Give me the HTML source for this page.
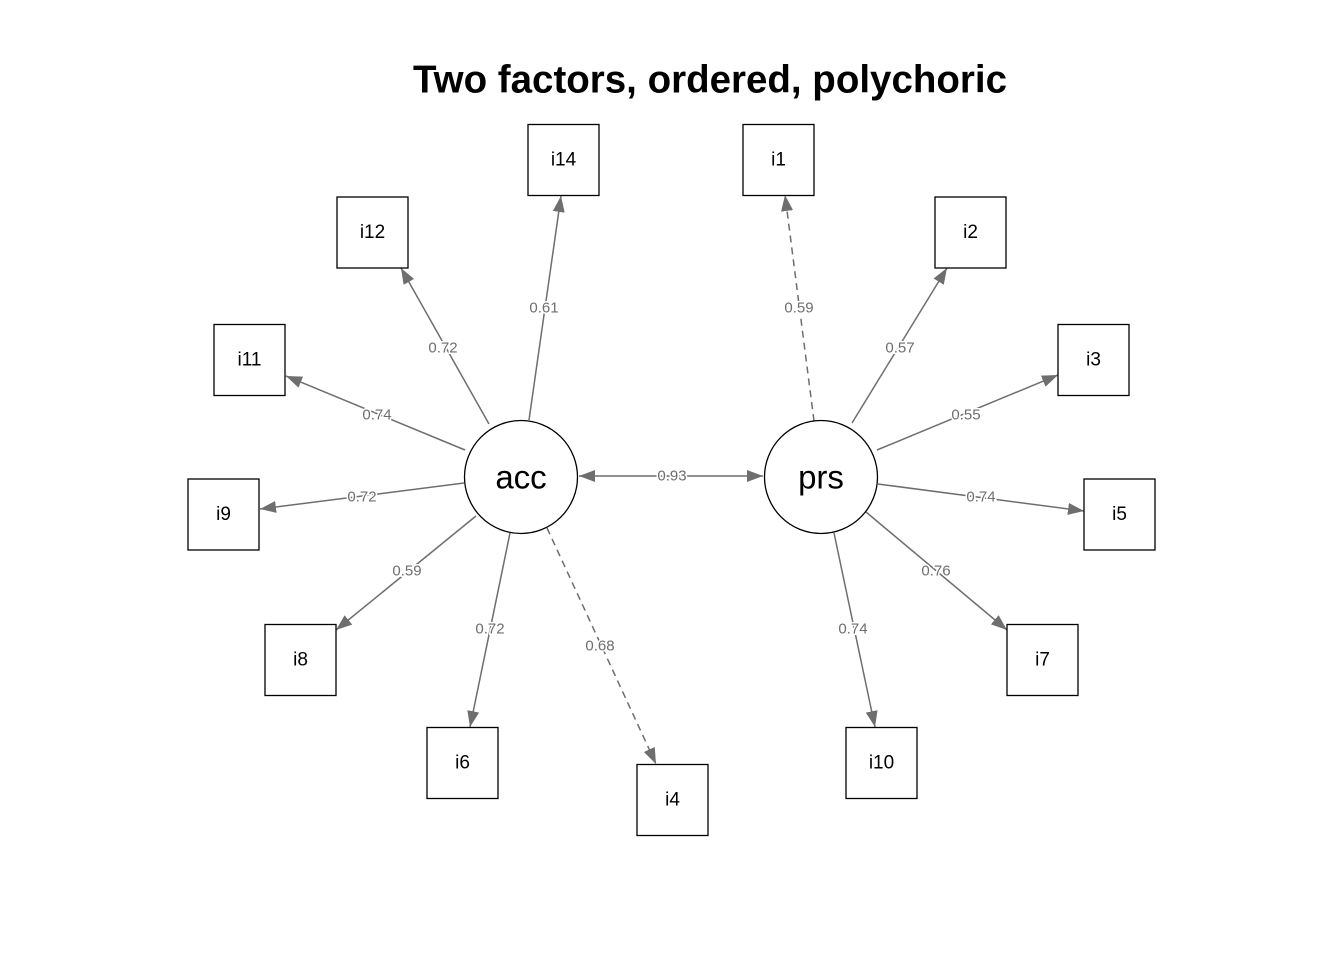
<!DOCTYPE html>
<html><head><meta charset="utf-8"><style>
html,body{margin:0;padding:0;background:#fff;}
svg{display:block;}
.l{stroke:#6e6e6e;stroke-width:1.5;fill:none;}
.d{stroke-dasharray:7,5;}
.lab{font-family:"Liberation Sans",sans-serif;font-size:15px;fill:#6e6e6e;text-anchor:middle;dominant-baseline:central;paint-order:stroke;stroke:#fff;stroke-width:3px;}
.bx{fill:#fff;stroke:#000;stroke-width:1.3;}
.bt{font-family:"Liberation Sans",sans-serif;font-size:19px;fill:#000;text-anchor:middle;dominant-baseline:central;}
.ct{font-family:"Liberation Sans",sans-serif;font-size:33px;fill:#000;text-anchor:middle;dominant-baseline:central;}
</style></head><body>
<svg width="1344" height="960" viewBox="0 0 1344 960" xmlns="http://www.w3.org/2000/svg">
<defs>
<marker id="a2" viewBox="0 0 10 10" refX="10" refY="5" markerWidth="16" markerHeight="12" markerUnits="userSpaceOnUse" orient="auto-start-reverse" preserveAspectRatio="none">
<path d="M0,0 L10,5 L0,10 z" fill="#6e6e6e"/></marker>
</defs>
<text x="710" y="80" font-family="Liberation Sans, sans-serif" font-size="38.5" font-weight="bold" text-anchor="middle" dominant-baseline="central">Two factors, ordered, polychoric</text>

<line class="l" x1="529" y1="420" x2="561" y2="196" marker-end="url(#a2)"/>
<line class="l" x1="489" y1="424" x2="401" y2="268" marker-end="url(#a2)"/>
<line class="l" x1="465" y1="450" x2="286" y2="376" marker-end="url(#a2)"/>
<line class="l" x1="464" y1="483" x2="260" y2="509" marker-end="url(#a2)"/>
<line class="l" x1="476" y1="516" x2="336" y2="630" marker-end="url(#a2)"/>
<line class="l" x1="510" y1="533" x2="470" y2="727" marker-end="url(#a2)"/>
<line class="l d" x1="547" y1="528" x2="656" y2="764" marker-end="url(#a2)"/>
<line class="l d" x1="814" y1="421" x2="785" y2="195" marker-end="url(#a2)"/>
<line class="l" x1="852" y1="423" x2="947" y2="268" marker-end="url(#a2)"/>
<line class="l" x1="877" y1="450" x2="1058" y2="375" marker-end="url(#a2)"/>
<line class="l" x1="878" y1="484" x2="1084" y2="511" marker-end="url(#a2)"/>
<line class="l" x1="866" y1="512" x2="1007" y2="630" marker-end="url(#a2)"/>
<line class="l" x1="834" y1="533" x2="875" y2="727" marker-end="url(#a2)"/>
<line class="l" x1="579" y1="476" x2="763" y2="476" marker-start="url(#a2)" marker-end="url(#a2)"/>

<text class="lab" x="544" y="308">0.61</text>
<text class="lab" x="443" y="348">0.72</text>
<text class="lab" x="377" y="415">0.74</text>
<text class="lab" x="362" y="497">0.72</text>
<text class="lab" x="407" y="571">0.59</text>
<text class="lab" x="490" y="629">0.72</text>
<text class="lab" x="600" y="646">0.68</text>
<text class="lab" x="799" y="308">0.59</text>
<text class="lab" x="900" y="348">0.57</text>
<text class="lab" x="966" y="415">0.55</text>
<text class="lab" x="981" y="497">0.74</text>
<text class="lab" x="936" y="571">0.76</text>
<text class="lab" x="853" y="629">0.74</text>
<text class="lab" x="672" y="476">0.93</text>

<g>
<rect class="bx" x="528" y="124.5" width="71" height="71"/><text class="bt" x="563.5" y="160">i14</text>
<rect class="bx" x="743" y="124.5" width="71" height="71"/><text class="bt" x="778.5" y="160">i1</text>
<rect class="bx" x="337" y="197" width="71" height="71"/><text class="bt" x="372.5" y="232.5">i12</text>
<rect class="bx" x="935" y="197" width="71" height="71"/><text class="bt" x="970.5" y="232.5">i2</text>
<rect class="bx" x="214" y="324.5" width="71" height="71"/><text class="bt" x="249.5" y="360">i11</text>
<rect class="bx" x="1058" y="324.5" width="71" height="71"/><text class="bt" x="1093.5" y="360">i3</text>
<rect class="bx" x="188" y="479" width="71" height="71"/><text class="bt" x="223.5" y="514.5">i9</text>
<rect class="bx" x="1084" y="479" width="71" height="71"/><text class="bt" x="1119.5" y="514.5">i5</text>
<rect class="bx" x="265" y="624.5" width="71" height="71"/><text class="bt" x="300.5" y="660">i8</text>
<rect class="bx" x="1007" y="624.5" width="71" height="71"/><text class="bt" x="1042.5" y="660">i7</text>
<rect class="bx" x="427" y="727.5" width="71" height="71"/><text class="bt" x="462.5" y="763">i6</text>
<rect class="bx" x="846" y="727.5" width="71" height="71"/><text class="bt" x="881.5" y="763">i10</text>
<rect class="bx" x="637" y="764.5" width="71" height="71"/><text class="bt" x="672.5" y="800">i4</text>
</g>

<circle cx="521" cy="477" r="56.5" fill="#fff" stroke="#000" stroke-width="1.3"/>
<text class="ct" x="521" y="477">acc</text>
<circle cx="821" cy="477" r="56.5" fill="#fff" stroke="#000" stroke-width="1.3"/>
<text class="ct" x="821" y="477">prs</text>
</svg>
</body></html>
